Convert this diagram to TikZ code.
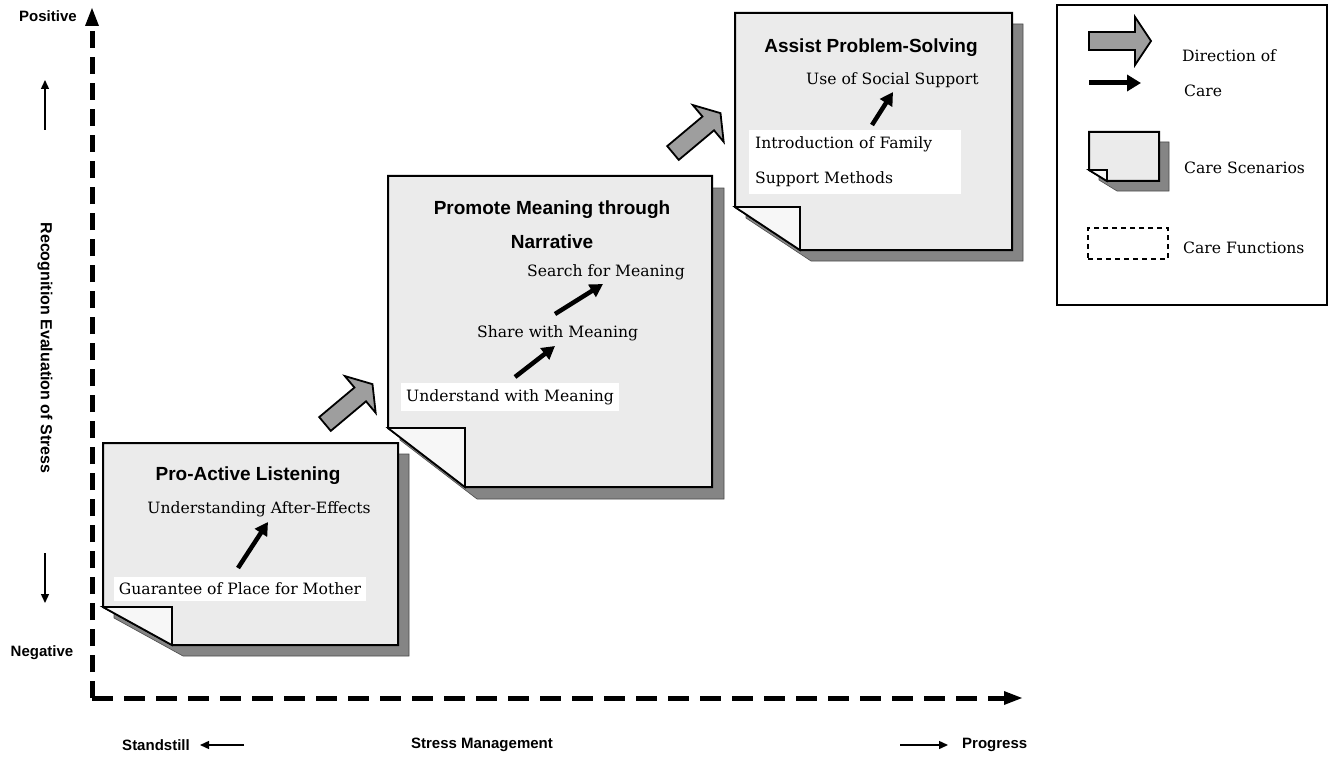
\documentclass[tikz,border=0pt]{standalone}
\usepackage{fontspec}
\setmainfont{DejaVu Serif}
\newfontfamily\hv{Liberation Sans}
\usetikzlibrary{arrows.meta}
\definecolor{cardc}{gray}{0.92}
\definecolor{flapc}{gray}{0.97}
\definecolor{shadc}{gray}{0.52}
\definecolor{barrc}{gray}{0.62}
\newcommand\careCard[7]{%
  \filldraw[fill=shadc,draw=black!70,line width=0.6] ({#1+#7},{#2+#7}) -- ({#3+#7},{#2+#7}) -- ({#3+#7},{#4+#7}) -- ({#1+#5+#7},{#4+#7}) -- ({#1+#7},{#4-#6+#7}) -- cycle;
  \filldraw[fill=cardc,line width=2] (#1,#2) -- (#3,#2) -- (#3,#4) -- ({#1+#5},#4) -- (#1,{#4-#6}) -- cycle;
  \filldraw[fill=flapc,line width=1.6,line join=miter] (#1,{#4-#6}) -- ({#1+#5},{#4-#6}) -- ({#1+#5},#4) -- cycle;
}
\newcommand\bigArr[3]{%
  \begin{scope}[shift={(#1,#2)},rotate=#3]
    \filldraw[fill=barrc,line width=1.8,line join=miter] (0,-9) -- (46,-9) -- (46,-24) -- (62,0) -- (46,24) -- (46,9) -- (0,9) -- cycle;
  \end{scope}
}
\begin{document}
\begin{tikzpicture}[x=1pt,y=-1pt,
  ttl/.style={font=\hv\bfseries\fontsize{19}{22}\selectfont,align=center,inner sep=1pt},
  fn/.style={font=\fontsize{15.6}{18}\selectfont,inner sep=2pt},
  fnw/.style={fn,fill=white,inner xsep=5pt,inner ysep=6pt},
  axl/.style={font=\hv\bfseries\fontsize{15}{18}\selectfont,inner sep=0pt},
  leg/.style={font=\fontsize{15.6}{18}\selectfont,inner sep=0pt,anchor=west},
  blk/.style={line width=4.5pt,-{Triangle[length=13pt,width=14pt]}},
  thin/.style={line width=1.4pt,-{Triangle[length=9pt,width=8pt]}},
  axisdash/.style={line width=5pt}
]
\useasboundingbox (0,0) rectangle (1331,757);
\fill[white] (0,0) rectangle (1331,757);

% axes
\coordinate (O) at (92,698);
\coordinate (Ytop) at (92,8);
\coordinate (Yb) at (92,25);
\coordinate (Xend) at (1022,698);
\coordinate (Xb) at (1005,698);
\draw[axisdash,dash pattern=on 17pt off 9pt] (O) -- (Yb);
\draw[axisdash,dash pattern=on 21pt off 11pt] (O) -- (Xb);
\fill (Ytop) -- (85,26) -- (99,26) -- cycle;
\fill (Xend) -- (1004,691) -- (1004,705) -- cycle;

% axis labels
\node[axl] (pos) at (48,16) {Positive};
\node[axl] (neg) at (42,653) {Negative};
\node[axl,font=\hv\bfseries\fontsize{16}{18}\selectfont,rotate=-90] (rec) at (45,348) {Recognition Evaluation of Stress};
\coordinate (upa) at (45,130); \coordinate (upb) at (45,80);
\coordinate (dna) at (45,553); \coordinate (dnb) at (45,603);
\draw[thin] (upa) -- (upb);
\draw[thin] (dna) -- (dnb);
\node[axl] (stand) at (156,745) {Standstill};
\node[axl] (sm) at (482,745) {Stress Management};
\node[axl,anchor=west] (prog) at (962,745) {Progress};
\coordinate (la) at (244,745); \coordinate (lb) at (200,745);
\coordinate (ra) at (900,745); \coordinate (rb) at (948,745);
\draw[thin] (la) -- (lb);
\draw[thin] (ra) -- (rb);

% cards
\careCard{103}{443}{398}{645}{69}{38}{11}
\careCard{388}{176}{712}{487}{77}{59}{12}
\careCard{735}{13}{1012}{250}{65}{43}{11}

% big arrows
\bigArr{325}{424}{40}
\bigArr{673}{153}{40}

% card 1
\node[ttl] (t1) at (248,476) {Pro-Active Listening};
\node[fn] (f1b) at (259,509) {Understanding After-Effects};
\node[fnw] (f1a) at (240,589) {Guarantee of Place for Mother};
\coordinate (a1s) at (238,568); \coordinate (a1e) at (268,522);
\draw[blk] (a1s) -- (a1e);

% card 2
\node[ttl,font=\hv\bfseries\fontsize{19}{34}\selectfont] (t2) at (552,225) {Promote Meaning through\\Narrative};
\node[fn,anchor=west] (f2c) at (525,272) {Search for Meaning};
\node[fn,anchor=west] (f2b) at (475,333) {Share with Meaning};
\node[fnw,anchor=west] (f2a) at (401,397) {Understand with Meaning};
\coordinate (a2s) at (515,377); \coordinate (a2e) at (555,346);
\coordinate (a3s) at (555,314); \coordinate (a3e) at (603,284);
\draw[blk] (a2s) -- (a2e);
\draw[blk] (a3s) -- (a3e);

% card 3
\node[ttl] (t3) at (871,48) {Assist Problem-Solving};
\node[fn,anchor=west] (f3b) at (804,80) {Use of Social Support};
\node[fn,fill=white,anchor=west,align=left,text width=200pt,font=\fontsize{15.6}{35}\selectfont,inner xsep=6pt,inner ysep=7pt] (f3a) at (749,162) {Introduction of Family\\Support Methods};
\coordinate (a4s) at (872,125); \coordinate (a4e) at (893,92);
\draw[blk] (a4s) -- (a4e);

% legend
\node[draw,line width=1.2pt,minimum width=270pt,minimum height=300pt,inner sep=0pt] (legbox) at (1192,155) {};
\bigArr{1089}{41}{0}
\coordinate (lgs) at (1089,83); \coordinate (lge) at (1141,83);
\draw[line width=5pt,-{Triangle[length=14pt,width=16pt]}] (lgs) -- (lge);
\node[leg] (l1) at (1182,56) {Direction of};
\node[leg] (l2) at (1184,91) {Care};
\careCard{1089}{132}{1159}{181}{18}{11}{10}
\node[leg] (l3) at (1184,168) {Care Scenarios};
\node[draw,dashed,line width=1.5pt,dash pattern=on 5pt off 4pt,minimum width=80pt,minimum height=31pt,inner sep=0pt] (legfn) at (1128,243.5) {};
\node[leg] (l4) at (1183,248) {Care Functions};
\end{tikzpicture}
\end{document}
